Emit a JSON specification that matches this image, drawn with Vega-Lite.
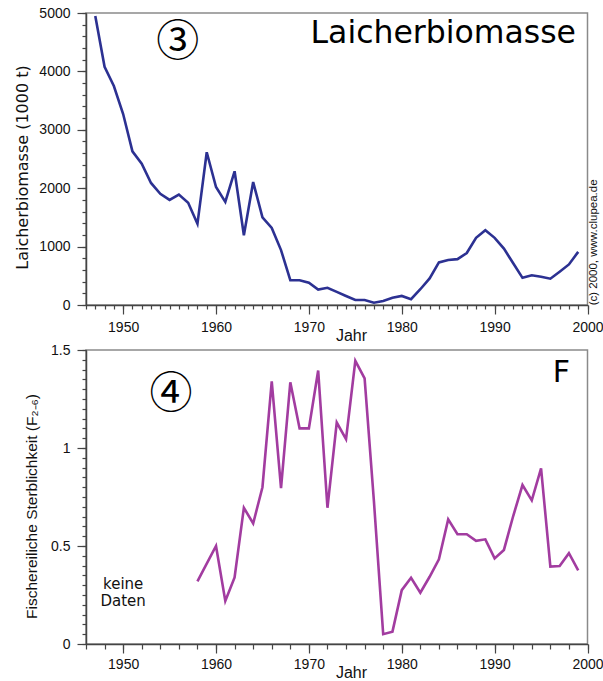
{
  "$schema": "https://vega.github.io/schema/vega-lite/v6.json",
  "padding": {"left": 13, "top": 5, "right": 0, "bottom": 0},
  "bounds": "flush",
  "spacing": 45,
  "config": {
    "font": "Liberation Sans",
    "view": {"stroke": "#8a8a8a", "strokeWidth": 1.5},
    "axis": {
      "domainColor": "#444", "domainWidth": 1.5, "tickColor": "#444", "tickWidth": 1.2,
      "labelColor": "#111", "labelFontSize": 14, "labelFont": "Liberation Sans",
      "titleFont": "Liberation Sans", "titleFontWeight": "normal", "titleColor": "#111",
      "grid": false, "labelFlush": false, "labelOverlap": false, "labelBound": false
    }
  },
  "vconcat": [
    {
      "width": 501.5,
      "height": 292,
      "resolve": {"axis": {"x": "independent", "y": "independent"}},
      "layer": [
        {
          "data": {"values": [
            {"year": 1947, "biomass": 4950}, {"year": 1948, "biomass": 4080}, {"year": 1949, "biomass": 3750},
            {"year": 1950, "biomass": 3270}, {"year": 1951, "biomass": 2630}, {"year": 1952, "biomass": 2420},
            {"year": 1953, "biomass": 2090}, {"year": 1954, "biomass": 1905}, {"year": 1955, "biomass": 1800},
            {"year": 1956, "biomass": 1890}, {"year": 1957, "biomass": 1750}, {"year": 1958, "biomass": 1390},
            {"year": 1959, "biomass": 2615}, {"year": 1960, "biomass": 2020}, {"year": 1961, "biomass": 1765},
            {"year": 1962, "biomass": 2290}, {"year": 1963, "biomass": 1195}, {"year": 1964, "biomass": 2105},
            {"year": 1965, "biomass": 1500}, {"year": 1966, "biomass": 1320}, {"year": 1967, "biomass": 940},
            {"year": 1968, "biomass": 425}, {"year": 1969, "biomass": 425}, {"year": 1970, "biomass": 380},
            {"year": 1971, "biomass": 265}, {"year": 1972, "biomass": 295}, {"year": 1973, "biomass": 225},
            {"year": 1974, "biomass": 155}, {"year": 1975, "biomass": 85}, {"year": 1976, "biomass": 85},
            {"year": 1977, "biomass": 40}, {"year": 1978, "biomass": 70}, {"year": 1979, "biomass": 125},
            {"year": 1980, "biomass": 155}, {"year": 1981, "biomass": 100}, {"year": 1982, "biomass": 270},
            {"year": 1983, "biomass": 455}, {"year": 1984, "biomass": 730}, {"year": 1985, "biomass": 770},
            {"year": 1986, "biomass": 785}, {"year": 1987, "biomass": 890}, {"year": 1988, "biomass": 1150},
            {"year": 1989, "biomass": 1280}, {"year": 1990, "biomass": 1150}, {"year": 1991, "biomass": 965},
            {"year": 1992, "biomass": 715}, {"year": 1993, "biomass": 465}, {"year": 1994, "biomass": 510},
            {"year": 1995, "biomass": 485}, {"year": 1996, "biomass": 450}, {"year": 1997, "biomass": 570},
            {"year": 1998, "biomass": 695}, {"year": 1999, "biomass": 910}
          ]},
          "mark": {"type": "line", "color": "#2c3192", "strokeWidth": 2.6},
          "encoding": {
            "x": {"field": "year", "type": "quantitative",
                  "scale": {"domain": [1946, 2000], "nice": false, "zero": false},
                  "axis": {"orient": "bottom", "values": [1950, 1960, 1970, 1980, 1990, 2000], "format": "d",
                           "tickSize": 9, "labelPadding": 6, "title": "Jahr", "titleFontSize": 16,
                           "titleX": 265, "titleY": 35, "titleAlign": "center", "titleBaseline": "alphabetic"}},
            "y": {"field": "biomass", "type": "quantitative",
                  "scale": {"domain": [0, 5000], "nice": false, "zero": true},
                  "axis": {"orient": "left", "values": [0, 1000, 2000, 3000, 4000, 5000], "format": "d",
                           "tickSize": 9, "labelPadding": 7, "title": "Laicherbiomasse (1000 t)", "titleFontSize": 16,
                           "titleFont": "DejaVu Sans",
                           "titleX": -64, "titleY": 154, "titleAngle": 270, "titleAlign": "center", "titleBaseline": "middle"}}
          }
        },
        {
          "data": {"values": [{"label": "③", "year": 1955.87, "value": 4479}]},
          "mark": {"type": "text", "font": "Noto Sans CJK JP", "fontSize": 43, "color": "#000", "align": "center", "baseline": "middle"},
          "encoding": {
            "x": {"field": "year", "type": "quantitative",
                  "axis": {"orient": "bottom", "values": [1946,1947,1948,1949,1950,1951,1952,1953,1954,1955,1956,1957,1958,1959,1960,1961,1962,1963,1964,1965,1966,1967,1968,1969,1970,1971,1972,1973,1974,1975,1976,1977,1978,1979,1980,1981,1982,1983,1984,1985,1986,1987,1988,1989,1990,1991,1992,1993,1994,1995,1996,1997,1998,1999,2000],
                           "tickSize": 4, "labels": false, "domain": false, "title": null}},
            "y": {"field": "value", "type": "quantitative",
                  "axis": {"orient": "left", "values": [0,200,400,600,800,1000,1200,1400,1600,1800,2000,2200,2400,2600,2800,3000,3200,3400,3600,3800,4000,4200,4400,4600,4800,5000],
                           "tickSize": 4, "labels": false, "domain": false, "title": null}},
            "text": {"field": "label"}
          }
        },
        {
          "data": {"values": [{"label": "Laicherbiomasse", "year": 1998.76, "value": 4491}]},
          "mark": {"type": "text", "font": "DejaVu Sans", "fontSize": 31.5, "color": "#000", "align": "right", "baseline": "alphabetic"},
          "encoding": {
            "x": {"field": "year", "type": "quantitative", "axis": null},
            "y": {"field": "value", "type": "quantitative", "axis": null},
            "text": {"field": "label"}
          }
        },
        {
          "data": {"values": [{"label": "(c) 2000, www.clupea.de", "year": 2000.74, "value": 1072}]},
          "mark": {"type": "text", "font": "Liberation Sans", "fontSize": 11.5, "color": "#111", "align": "center", "baseline": "middle", "angle": 270},
          "encoding": {
            "x": {"field": "year", "type": "quantitative", "axis": null},
            "y": {"field": "value", "type": "quantitative", "axis": null},
            "text": {"field": "label"}
          }
        }
      ]
    },
    {
      "width": 501.5,
      "height": 294,
      "resolve": {"axis": {"x": "independent", "y": "independent"}},
      "layer": [
        {
          "data": {"values": [
            {"year": 1958, "F": 0.32}, {"year": 1959, "F": 0.41}, {"year": 1960, "F": 0.5},
            {"year": 1961, "F": 0.22}, {"year": 1962, "F": 0.34}, {"year": 1963, "F": 0.695},
            {"year": 1964, "F": 0.615}, {"year": 1965, "F": 0.8}, {"year": 1966, "F": 1.34},
            {"year": 1967, "F": 0.795}, {"year": 1968, "F": 1.335}, {"year": 1969, "F": 1.1},
            {"year": 1970, "F": 1.1}, {"year": 1971, "F": 1.395}, {"year": 1972, "F": 0.695},
            {"year": 1973, "F": 1.13}, {"year": 1974, "F": 1.045}, {"year": 1975, "F": 1.445},
            {"year": 1976, "F": 1.355}, {"year": 1977, "F": 0.73}, {"year": 1978, "F": 0.05},
            {"year": 1979, "F": 0.063}, {"year": 1980, "F": 0.275}, {"year": 1981, "F": 0.338},
            {"year": 1982, "F": 0.262}, {"year": 1983, "F": 0.343}, {"year": 1984, "F": 0.432},
            {"year": 1985, "F": 0.636}, {"year": 1986, "F": 0.56}, {"year": 1987, "F": 0.56},
            {"year": 1988, "F": 0.526}, {"year": 1989, "F": 0.534}, {"year": 1990, "F": 0.437},
            {"year": 1991, "F": 0.48}, {"year": 1992, "F": 0.653}, {"year": 1993, "F": 0.811},
            {"year": 1994, "F": 0.733}, {"year": 1995, "F": 0.896}, {"year": 1996, "F": 0.395},
            {"year": 1997, "F": 0.398}, {"year": 1998, "F": 0.463}, {"year": 1999, "F": 0.376}
          ]},
          "mark": {"type": "line", "color": "#a23ca0", "strokeWidth": 2.6},
          "encoding": {
            "x": {"field": "year", "type": "quantitative",
                  "scale": {"domain": [1946, 2000], "nice": false, "zero": false},
                  "axis": {"orient": "bottom", "values": [1950, 1960, 1970, 1980, 1990, 2000], "format": "d",
                           "tickSize": 9, "labelPadding": 4, "title": "Jahr", "titleFontSize": 16,
                           "titleX": 265, "titleY": 33, "titleAlign": "center", "titleBaseline": "alphabetic"}},
            "y": {"field": "F", "type": "quantitative",
                  "scale": {"domain": [0, 1.5], "nice": false, "zero": true},
                  "axis": {"orient": "left", "values": [0, 0.5, 1, 1.5], "format": "~g",
                           "tickSize": 9, "labelPadding": 7, "title": "Fischereiliche Sterblichkeit (F₂₋₆)", "titleFontSize": 15.5,
                           "titleFont": "Liberation Sans Narrow, Liberation Sans",
                           "titleX": -54.5, "titleY": 156, "titleAngle": 270, "titleAlign": "center", "titleBaseline": "middle"}}
          }
        },
        {
          "data": {"values": [{"label": "④", "year": 1955.15, "value": 1.269}]},
          "mark": {"type": "text", "font": "Noto Sans CJK JP", "fontSize": 43, "color": "#000", "align": "center", "baseline": "middle"},
          "encoding": {
            "x": {"field": "year", "type": "quantitative",
                  "axis": {"orient": "bottom", "values": [1946,1948,1950,1952,1954,1956,1958,1960,1962,1964,1966,1968,1970,1972,1974,1976,1978,1980,1982,1984,1986,1988,1990,1992,1994,1996,1998,2000],
                           "tickSize": 5, "labels": false, "domain": false, "title": null}},
            "y": {"field": "value", "type": "quantitative",
                  "axis": {"orient": "left", "values": [0,0.05,0.1,0.15,0.2,0.25,0.3,0.35,0.4,0.45,0.5,0.55,0.6,0.65,0.7,0.75,0.8,0.85,0.9,0.95,1,1.05,1.1,1.15,1.2,1.25,1.3,1.35,1.4,1.45,1.5],
                           "tickSize": 4, "labels": false, "domain": false, "title": null}},
            "text": {"field": "label"}
          }
        },
        {
          "data": {"values": [{"label": "F", "year": 1998.12, "value": 1.382}]},
          "mark": {"type": "text", "font": "DejaVu Sans", "fontSize": 30, "color": "#000", "align": "right", "baseline": "middle"},
          "encoding": {
            "x": {"field": "year", "type": "quantitative", "axis": null},
            "y": {"field": "value", "type": "quantitative", "axis": null},
            "text": {"field": "label"}
          }
        },
        {
          "data": {"values": [{"label": "keine\nDaten", "year": 1950.0, "value": 0.282}]},
          "mark": {"type": "text", "font": "DejaVu Sans", "fontSize": 15, "color": "#111", "align": "center", "baseline": "alphabetic", "lineBreak": "\n", "lineHeight": 17},
          "encoding": {
            "x": {"field": "year", "type": "quantitative", "axis": null},
            "y": {"field": "value", "type": "quantitative", "axis": null},
            "text": {"field": "label"}
          }
        }
      ]
    }
  ]
}
